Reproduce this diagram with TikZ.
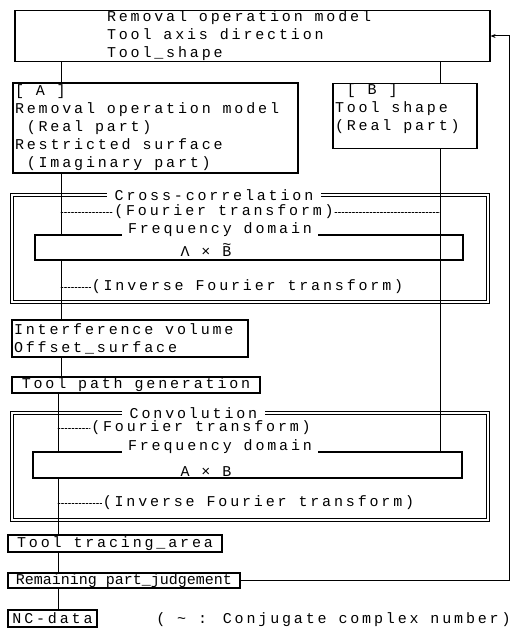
\documentclass[tikz,border=0pt]{standalone}
\usepackage{fontspec}
\newfontfamily\dotfont{Liberation Mono}[LetterSpace=19]
\newfontfamily\dotfontn{Liberation Mono}
\usetikzlibrary{arrows.meta}
\newcommand{\ind}{\hspace*{11.8pt}}
\newcommand{\tB}{\ooalign{B\cr\hidewidth\raisebox{0.5em}{\textasciitilde}\hidewidth\cr}}

\begin{document}
\begin{tikzpicture}[x=1pt,y=-1pt,>={Stealth[length=5pt,width=4pt]},line cap=round,
	font=\dotfont\fontsize{15}{18}\selectfont,
	box/.style={draw,line width=1.2pt,inner xsep=2pt,inner ysep=0pt,align=flush left},
	panel/.style={draw,double,line width=1.1pt,double distance=1.2pt,minimum width=476pt},
	title/.style={fill=white,inner xsep=8pt,inner ysep=0pt},
	note/.style={inner sep=1pt},
	leader/.style={dash pattern=on 2pt off 1.5pt,line width=0.8pt},
	wire/.style={line width=1pt}]
	
	\useasboundingbox (0,0) rectangle (512,642);
	
	% ---- spines ----
	\coordinate (spA) at (61,0);
	\coordinate (spC) at (58,0);
	\coordinate (spB) at (440,0);
	\coordinate (fb) at (509,0);
	
	% ---- input ----
	\node[box,minimum width=475pt,minimum height=51pt,text width=291pt,inner xsep=92pt] (model) at (252.5,36)
	{Removal operation model\\Tool axis direction\\Tool\_shape};
	
	\node[box,minimum width=285pt,minimum height=90pt,text width=281pt] (partA) at (155.5,128)
	{[ A ]\\Removal operation model\\\ind(Real part)\\Restricted surface\\\ind(Imaginary part)};
	
	\node[box,minimum width=144pt,minimum height=64pt,text width=140pt] (partB) at (405,116)
	{\ind[ B ]\\Tool shape\\(Real part)\\\mbox{}};
	
	% ---- cross-correlation ----
	\node[panel,minimum height=107pt] (xcorr) at (250,248.5) {};
	\node[title] (xcorrT) at (214,195) {Cross-correlation};
	\node[note] (xft) at (224,212) {(Fourier transform)};
	\node[box,minimum width=428pt,minimum height=25pt] (xfreq) at (249,247.5) {};
	\node[title,inner xsep=6pt] (xfreqT) at (220,230) {Frequency domain};
	\node[note] (xprod) at (206,252) {Λ × \tB};
	\node[note] (xift) at (247.5,287) {(Inverse Fourier transform)};
	
	% ---- result ----
	\node[box,minimum width=236pt,minimum height=37pt,text width=232pt] (volume) at (130,338.5)
	{Interference volume\\Offset\_surface};
	\node[box,minimum width=248pt,minimum height=16pt] (path) at (136,385) {Tool path generation};
	
	% ---- convolution ----
	\node[panel,minimum height=107pt] (conv) at (250,466.5) {};
	\node[title] (convT) at (193.5,413) {Convolution};
	\node[note] (cft) at (201,428) {(Fourier transform)};
	\node[box,minimum width=429pt,minimum height=26pt] (cfreq) at (247.5,465) {};
	\node[title,inner xsep=6pt] (cfreqT) at (220,447) {Frequency domain};
	\node[note] (cprod) at (206,472) {A × B};
	\node[note] (cift) at (258.5,503) {(Inverse Fourier transform)};
	
	% ---- output ----
	\node[box,minimum width=214pt,minimum height=17pt] (trace) at (115,543.5) {Tool tracing\_area};
	\node[box,minimum width=232pt,minimum height=15pt,font=\dotfontn\fontsize{15}{18}\selectfont] (judge) at (124,580.5)
	{Remaining part\_judgement};
	\node[box,minimum width=89pt,minimum height=17pt] (nc) at (52.5,618.5) {NC-data};
	\node[note] (remark) at (333.5,620) {( \textasciitilde{} : Conjugate complex number)};
	
	% ---- connectors ----
	\draw[wire] (model.south -| spA) -- (partA.north -| spA);
	\draw[wire] (model.south -| spB) -- (partB.north -| spB);
	\draw[wire] (partA.south -| spA) -- (xfreq.north -| spA);
	\draw[wire] (xfreq.south -| spA) -- (volume.north -| spA);
	\draw[wire] (partB.south -| spB) -- (cfreq.north -| spB);
	\draw[wire] (volume.south -| spA) -- (path.north -| spA);
	\draw[wire] (path.south -| spC) -- (cfreq.north -| spC);
	\draw[wire] (cfreq.south -| spC) -- (trace.north -| spC);
	\draw[wire] (trace.south -| spC) -- (judge.north -| spC);
	\draw[wire] (judge.south -| spC) -- (nc.north -| spC);
	
	\draw[leader] (xft.west -| spA) -- (xft.west);
	\draw[leader] (xft.east) -- (xft.east -| spB);
	\draw[leader] (xift.west -| spA) -- (xift.west);
	\draw[leader] (cft.west -| spC) -- (cft.west);
	\draw[leader] (cift.west -| spC) -- (cift.west);
	
	% ---- feedback ----
	\draw[wire,->] (judge.east) -- (judge.east -| fb) -- (model.east -| fb) -- (model.east);
	
\end{tikzpicture}
\end{document}
